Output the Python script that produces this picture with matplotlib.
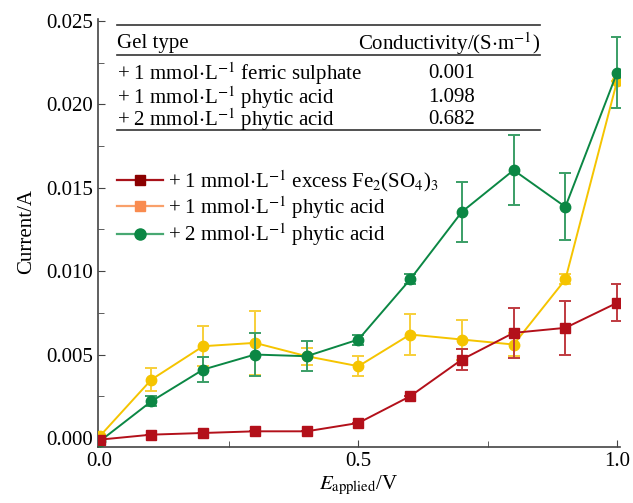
import matplotlib
matplotlib.use("Agg")
import matplotlib.pyplot as plt
from matplotlib.lines import Line2D
import numpy as np

plt.rcParams['font.family'] = ['Liberation Serif', 'DejaVu Serif']
plt.rcParams['mathtext.fontset'] = 'stix'

# data
volts = [0.0, 0.1, 0.2, 0.3, 0.4, 0.5, 0.6, 0.7, 0.8, 0.9, 1.0]

fe_cur = [-0.0001, 0.0002, 0.0003, 0.0004, 0.0004, 0.0009, 0.0025, 0.0047, 0.0063, 0.0066, 0.0081]
fe_err = [0.0, 0.0, 0.0, 0.0, 0.0, 0.0, 0.0, 0.00065, 0.0015, 0.0016, 0.0011]

pa1_cur = [0.0001, 0.0035, 0.0055, 0.0057, 0.0049, 0.0043, 0.0062, 0.0059, 0.0056, 0.0095, 0.0214]
pa1_err = [0.0, 0.0007, 0.0012, 0.0019, 0.0005, 0.0006, 0.0012, 0.0012, 0.0007, 0.0003, 0.0]

pa2_cur = [-0.0002, 0.0022, 0.0041, 0.0050, 0.0049, 0.0059, 0.0095, 0.01355, 0.01605, 0.01385, 0.0219]
pa2_err = [0.0, 0.0003, 0.00075, 0.0013, 0.0009, 0.0003, 0.0003, 0.0018, 0.0021, 0.0020, 0.0021]

labels = [r'+ 1 mmol$\cdot$L$^{-1}$ excess Fe$_2$(SO$_4$)$_3$',
          r'+ 1 mmol$\cdot$L$^{-1}$ phytic acid',
          r'+ 2 mmol$\cdot$L$^{-1}$ phytic acid']

gel_types = [r'+ 1 mmol$\cdot$L$^{-1}$ ferric sulphate',
             r'+ 1 mmol$\cdot$L$^{-1}$ phytic acid',
             r'+ 2 mmol$\cdot$L$^{-1}$ phytic acid']
conductivity = ['0.001', '1.098', '0.682']

fig = plt.figure(figsize=(6.33, 5.03), dpi=100)
ax = fig.add_axes([0.155, 0.111, 0.824, 0.851])

ax.errorbar(volts, pa1_cur, yerr=pa1_err, color='#F5C400', ecolor='#F7CF3A',
            marker='o', ms=7.5, lw=1.4, capsize=4, elinewidth=1.4, capthick=1.4, zorder=3)
ax.errorbar(volts, pa2_cur, yerr=pa2_err, color='#0B8744', ecolor='#3A9E66',
            marker='o', ms=7.5, lw=1.4, capsize=4, elinewidth=1.4, capthick=1.4, zorder=4)
ax.errorbar(volts, fe_cur, yerr=fe_err, color='#B3101A', ecolor='#BF3A40',
            marker='s', ms=7, lw=1.4, capsize=4, elinewidth=1.4, capthick=1.4, zorder=5)

ax.set_xlim(-0.003, 1.005)
ax.set_ylim(-0.00055, 0.0251)
ax.set_xticks([0.0, 0.5, 1.0])
ax.set_xticks([0.25, 0.75], minor=True)
ax.set_yticks(np.arange(0, 0.0251, 0.005))
ax.set_yticks(np.arange(0.0025, 0.025, 0.005), minor=True)
ax.xaxis.set_major_formatter(matplotlib.ticker.FormatStrFormatter('%.1f'))
ax.yaxis.set_major_formatter(matplotlib.ticker.FormatStrFormatter('%.3f'))
ax.tick_params(which='both', direction='in', labelsize=15, color='#444444')
ax.tick_params(which='major', length=5)
ax.tick_params(which='minor', length=4)
for s in ['top', 'right']:
    ax.spines[s].set_visible(False)
for s in ['left', 'bottom']:
    ax.spines[s].set_color('#444444')
    ax.spines[s].set_linewidth(1.2)

ax.set_xlabel(r'$E_{\mathrm{applied}}$/V', fontsize=15, labelpad=2)
ax.set_ylabel('Current/A', fontsize=15)
ax.yaxis.set_label_coords(-0.118, 0.505)

# table in the upper left
tx0, tx1 = 0.036, 0.847
for yy in [0.986, 0.916, 0.741]:
    ax.add_line(Line2D([tx0, tx1], [yy, yy], transform=ax.transAxes, color='#333333', lw=1.2))
ax.text(tx0, 0.943, 'Gel type', transform=ax.transAxes, fontsize=15, va='center')
ax.text(tx1, 0.943, r'Conductivity/(S$\cdot$m$^{-1}$)', transform=ax.transAxes,
        fontsize=15, va='center', ha='right')
row_y = [0.872, 0.817, 0.765]
for g, c, yy in zip(gel_types, conductivity, row_y):
    ax.text(tx0, yy, g, transform=ax.transAxes, fontsize=15, va='center')
    ax.text(0.678, yy, c, transform=ax.transAxes, fontsize=15, va='center', ha='center')

handles = [Line2D([], [], color='#A8121A', marker='s', ms=7, mfc='#8B0000', mec='#8B0000', lw=1.6),
           Line2D([], [], color='#F9A06A', marker='s', ms=7, mfc='#F98B4F', mec='#F98B4F', lw=1.6),
           Line2D([], [], color='#48A872', marker='o', ms=8, mfc='#0B8744', mec='#0B8744', lw=1.6)]
ax.legend(handles, labels, loc='upper left', bbox_to_anchor=(0.02, 0.672), frameon=False,
          fontsize=15, handlelength=2.2, handletextpad=0.25, labelspacing=0.02, borderaxespad=0)

fig.savefig('out.png', dpi=100)
